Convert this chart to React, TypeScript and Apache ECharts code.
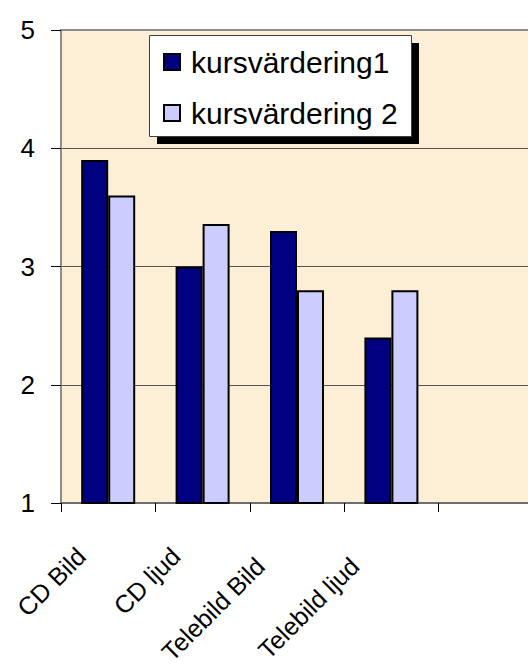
import React, { useEffect, useRef } from "react";
import * as echarts from "echarts";

const categories = ["CD Bild", "CD ljud", "Telebild Bild", "Telebild ljud", ""];
const labelPadRight = [38, 38, 52, 52, 0];
const labelPadBottom = [24, 24, 13, 13, 0];
const series1Name = "kursvärdering1";
const series2Name = "kursvärdering 2";
const series1 = [3.9, 3.0, 3.3, 2.4, null];
const series2 = [3.6, 3.36, 2.8, 2.8, null];
const yTicks = [1, 2, 3, 4, 5];

const FONT = "'Liberation Sans', Arial, sans-serif";

export default function App() {
  const ref = useRef<HTMLDivElement>(null);
  useEffect(() => {
    if (!ref.current) return;
    const chart = echarts.init(ref.current, null, { renderer: "svg" });
    chart.setOption({
      animation: false,
      backgroundColor: "#ffffff",
      textStyle: { fontFamily: FONT },
      grid: {
        left: 61,
        top: 30,
        width: 472,
        height: 473,
        containLabel: false,
        outerBoundsMode: "none",
        show: true,
        backgroundColor: "#FCEFD6",
        borderColor: "#8c8c8c",
        borderWidth: 2,
      },
      legend: {
        orient: "vertical",
        left: 163,
        top: 47,
        padding: 0,
        z: 20,
        itemWidth: 16,
        itemHeight: 16,
        itemGap: 21,
        icon: "rect",
        data: [series1Name, series2Name],
        textStyle: {
          fontFamily: FONT,
          fontSize: 30,
          lineHeight: 30,
          color: "#000",
          padding: [0, 0, 0, 6],
        },
      },
      graphic: [
        {
          type: "rect",
          z: 10,
          shape: { x: 157, y: 43, width: 262, height: 101 },
          style: { fill: "#000" },
        },
        {
          type: "rect",
          z: 11,
          shape: { x: 149.5, y: 35.5, width: 262, height: 101 },
          style: { fill: "#fff", stroke: "#404040", lineWidth: 1 },
        },
      ],
      xAxis: {
        type: "category",
        data: categories.map((c, i) => ({
          value: c,
          textStyle: { padding: [0, labelPadRight[i], labelPadBottom[i], 0] },
        })),
        axisLine: { show: true, lineStyle: { color: "#6e6e6e", width: 2 } },
        axisTick: { show: true, length: 9, lineStyle: { color: "#000", width: 1 } },
        axisLabel: {
          interval: 0,
          rotate: 45,
          margin: 22,
          fontSize: 25,
          fontFamily: FONT,
          color: "#000",
        },
        splitLine: { show: false },
      },
      yAxis: {
        type: "value",
        min: yTicks[0],
        max: yTicks[yTicks.length - 1],
        interval: 1,
        axisLine: { show: true, lineStyle: { color: "#8c8c8c", width: 2 } },
        axisTick: { show: true, length: 10, lineStyle: { color: "#000", width: 1 } },
        axisLabel: {
          margin: 26,
          fontSize: 26,
          fontFamily: FONT,
          color: "#000",
        },
        splitLine: {
          show: true,
          lineStyle: { color: ["#555", "#555", "#555", "#555", "#8c8c8c"], width: 1 },
        },
      },
      series: [
        {
          name: series1Name,
          type: "bar",
          data: series1,
          barWidth: 27,
          barGap: "0%",
          itemStyle: { color: "#000080", borderColor: "#000", borderWidth: 2 },
        },
        {
          name: series2Name,
          type: "bar",
          data: series2,
          barWidth: 27,
          barGap: "0%",
          itemStyle: { color: "#CCCCFF", borderColor: "#000", borderWidth: 2 },
        },
      ],
    });
    return () => chart.dispose();
  }, []);
  return (
    <div
      ref={ref}
      style={{ position: "fixed", left: 0, top: 0, width: 528, height: 666 }}
    />
  );
}
